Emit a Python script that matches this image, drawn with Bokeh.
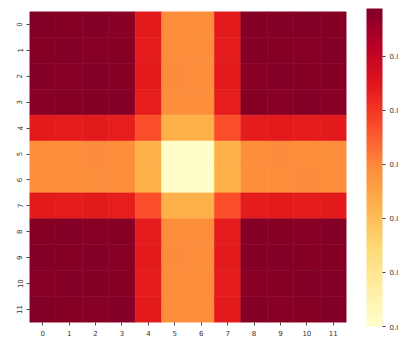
from bokeh.plotting import figure
from bokeh.models import (ColumnDataSource, LinearColorMapper, ColorBar,
                          FixedTicker, PrintfTickFormatter, FactorRange)
from bokeh.transform import transform
from bokeh.embed import file_html
from bokeh.resources import INLINE
import numpy as np

# Row / column labels of the matrix
row_labels = [str(i) for i in range(12)]
col_labels = [str(i) for i in range(12)]

# Cell values, one list per row (row 0 first)
row_0 = [0.0842, 0.0840, 0.0841, 0.0838, 0.0770, 0.0697, 0.0697, 0.0770, 0.0840, 0.0841, 0.0842, 0.0840]
row_1 = [0.0840, 0.0841, 0.0839, 0.0840, 0.0769, 0.0697, 0.0696, 0.0769, 0.0841, 0.0840, 0.0839, 0.0841]
row_2 = [0.0841, 0.0839, 0.0842, 0.0840, 0.0770, 0.0698, 0.0697, 0.0770, 0.0839, 0.0842, 0.0840, 0.0840]
row_3 = [0.0839, 0.0840, 0.0840, 0.0841, 0.0768, 0.0696, 0.0697, 0.0768, 0.0840, 0.0839, 0.0841, 0.0839]
row_4 = [0.0770, 0.0769, 0.0770, 0.0768, 0.0734, 0.0662, 0.0662, 0.0734, 0.0769, 0.0770, 0.0769, 0.0770]
row_5 = [0.0697, 0.0697, 0.0698, 0.0696, 0.0662, 0.0552, 0.0552, 0.0662, 0.0697, 0.0698, 0.0697, 0.0697]
row_6 = [0.0697, 0.0696, 0.0697, 0.0697, 0.0662, 0.0552, 0.0552, 0.0662, 0.0696, 0.0697, 0.0698, 0.0697]
row_7 = [0.0770, 0.0769, 0.0770, 0.0768, 0.0734, 0.0662, 0.0662, 0.0734, 0.0769, 0.0770, 0.0769, 0.0770]
row_8 = [0.0840, 0.0841, 0.0839, 0.0840, 0.0769, 0.0697, 0.0697, 0.0769, 0.0841, 0.0840, 0.0839, 0.0841]
row_9 = [0.0841, 0.0840, 0.0841, 0.0839, 0.0770, 0.0698, 0.0697, 0.0770, 0.0840, 0.0841, 0.0840, 0.0840]
row_10 = [0.0839, 0.0841, 0.0840, 0.0840, 0.0769, 0.0696, 0.0697, 0.0769, 0.0839, 0.0840, 0.0842, 0.0841]
row_11 = [0.0842, 0.0840, 0.0839, 0.0841, 0.0770, 0.0697, 0.0697, 0.0770, 0.0841, 0.0839, 0.0840, 0.0842]
rows = [row_0, row_1, row_2, row_3, row_4, row_5, row_6, row_7, row_8, row_9, row_10, row_11]

# Colour bar scale
v_min = 0.055
v_max = 0.0844
cbar_ticks = [0.055, 0.060, 0.065, 0.070, 0.075, 0.080]

# Continuous YlOrRd palette interpolated from its nine anchor colours
anchors = ["#ffffcc", "#ffeda0", "#fed976", "#feb24c", "#fd8d3c",
           "#fc4e2a", "#e31a1c", "#bd0026", "#800026"]
rgb = np.array([[int(h[i:i + 2], 16) for i in (1, 3, 5)] for h in anchors], float)
pos = np.linspace(0, 1, len(anchors))
t = np.linspace(0, 1, 256)
palette = ["#%02x%02x%02x" % tuple(int(round(np.interp(tt, pos, rgb[:, k]))) for k in range(3))
           for tt in t]

xs, ys, vs = [], [], []
for r, vals in zip(row_labels, rows):
    for c, v in zip(col_labels, vals):
        xs.append(c)
        ys.append(r)
        vs.append(v)
source = ColumnDataSource(dict(x=xs, y=ys, v=vs))

mapper = LinearColorMapper(palette=palette, low=v_min, high=v_max)

p = figure(width=398, height=338, output_backend="svg", toolbar_location=None,
           x_range=FactorRange(factors=col_labels),
           y_range=FactorRange(factors=list(reversed(row_labels))),
           min_border_left=29, min_border_top=11, min_border_bottom=14,
           min_border_right=52)
p.rect(x="x", y="y", width=1, height=1, source=source,
       fill_color=transform("v", mapper),
       line_color=transform("v", mapper), line_width=0.6)

p.outline_line_color = None
p.grid.grid_line_color = None
p.x_range.range_padding = 0
p.y_range.range_padding = 0

for ax in (p.xaxis[0], p.yaxis[0]):
    ax.axis_line_color = None
    ax.major_tick_line_color = "#444444"
    ax.major_tick_out = 3
    ax.major_tick_in = 0
    ax.minor_tick_line_color = None
    ax.major_label_text_font = "DejaVu Sans"
    ax.major_label_text_font_size = "7px"
    ax.major_label_text_color = "#333333"
    ax.major_label_standoff = 4
p.yaxis[0].major_label_orientation = "vertical"

# Colour bar placed beside the heatmap, its labels running past the edge
cbar = ColorBar(color_mapper=mapper, width=16, height=318, padding=0,
                location=(337, -4),
                ticker=FixedTicker(ticks=cbar_ticks),
                formatter=PrintfTickFormatter(format="%.3f"),
                major_tick_in=0, major_tick_out=3,
                major_tick_line_color="#444444",
                major_label_text_font="DejaVu Sans",
                major_label_text_font_size="7px",
                major_label_text_color="#333333",
                label_standoff=4, bar_line_color=None,
                border_line_color=None, background_fill_color=None)
p.add_layout(cbar)

open("out.html", "w").write(file_html(p, INLINE))
